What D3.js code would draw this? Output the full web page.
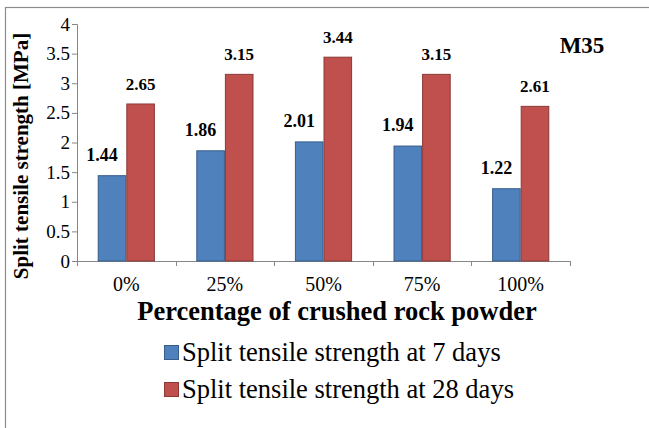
<!DOCTYPE html>
<html>
<head>
<meta charset="UTF-8">
<title>Split tensile strength M35</title>
<script src="https://d3js.org/d3.v7.min.js"></script>
<style>
  body { margin: 0; background: #fff; }
  svg text { font-family: "Liberation Serif", "Times New Roman", serif; fill: #000; }
</style>
</head>
<body>
<div id="chart"></div>
<script>
// data
var categories = ["0%", "25%", "50%", "75%", "100%"];
var days7 = [1.44, 1.86, 2.01, 1.94, 1.22];
var days28 = [2.65, 3.15, 3.44, 3.15, 2.61];
var seriesNames = ["Split tensile strength at 7 days", "Split tensile strength at 28 days"];
var yTicks = [0, 0.5, 1, 1.5, 2, 2.5, 3, 3.5, 4];

var W = 649, H = 428;
var plotL = 77, plotR = 570, plotT = 24, plotB = 261;
var fills = ["#4F81BD", "#C0504D"], strokes = ["#385D8A", "#8C3836"];

var svg = d3.select("#chart").append("svg").attr("width", W).attr("height", H);

// chart frame (only top & left edges visible in the crop)
svg.append("rect").attr("x", 5.5).attr("y", 7.5).attr("width", 700).attr("height", 500)
    .attr("fill", "none").attr("stroke", "#8c8c8c").attr("stroke-width", 1.2);

var x0 = d3.scaleBand().domain(categories).range([plotL, plotR]).paddingInner(0.42).paddingOuter(0.21);
var x1 = d3.scaleBand().domain([0, 1]).range([0, x0.bandwidth()]);
var y = d3.scaleLinear().domain([0, 4]).range([plotB, plotT]);

// y axis
var yAxis = svg.append("g").attr("transform", "translate(" + plotL + ",0)")
    .call(d3.axisLeft(y).tickValues(yTicks).tickSize(5).tickPadding(2).tickFormat(d3.format("")));
yAxis.selectAll("text").style("font-size", "19px");
yAxis.selectAll(".domain, line").attr("stroke", "#868686");

// x axis: labels centred, ticks at category boundaries
var step = (plotR - plotL) / categories.length;
var xAxis = svg.append("g").attr("transform", "translate(0," + plotB + ")")
    .call(d3.axisBottom(x0).tickSize(0).tickPadding(16));
xAxis.selectAll("text").style("font-size", "20px");
xAxis.select(".domain").remove();
svg.append("line").attr("x1", plotL).attr("x2", plotR).attr("y1", plotB + 0.5).attr("y2", plotB + 0.5)
    .attr("stroke", "#868686");
svg.selectAll(".xtick").data(d3.range(categories.length + 1)).enter().append("line")
    .attr("x1", function(i) { return Math.round(plotL + i * step) + 0.5; })
    .attr("x2", function(i) { return Math.round(plotL + i * step) + 0.5; })
    .attr("y1", plotB).attr("y2", plotB + 5).attr("stroke", "#868686");

// bars
var groups = svg.selectAll(".grp").data(categories).enter().append("g")
    .attr("transform", function(d) { return "translate(" + x0(d) + ",0)"; });
[days7, days28].forEach(function(vals, s) {
    groups.append("rect")
        .attr("x", x1(s) + 0.5)
        .attr("y", function(d, i) { return y(vals[i]); })
        .attr("width", x1.bandwidth() - 1)
        .attr("height", function(d, i) { return plotB - y(vals[i]); })
        .attr("fill", fills[s]).attr("stroke", strokes[s]).attr("stroke-width", 1);
});

// data labels
groups.append("text")
    .attr("x", x1(0) + x1.bandwidth() / 2 - 10)
    .attr("y", function(d, i) { return y(days7[i]) - 15; })
    .attr("text-anchor", "middle").style("font-size", "18px").style("font-weight", "bold")
    .text(function(d, i) { return days7[i].toFixed(2); });
groups.append("text")
    .attr("x", x1(1) + x1.bandwidth() / 2)
    .attr("y", function(d, i) { return y(days28[i]) - 14; })
    .attr("text-anchor", "middle").style("font-size", "17px").style("font-weight", "bold")
    .text(function(d, i) { return days28[i].toFixed(2); });

// M35 label
svg.append("text").attr("x", 582).attr("y", 53).attr("text-anchor", "middle")
    .style("font-size", "23px").style("font-weight", "bold").text("M35");

// axis titles
svg.append("text").attr("transform", "translate(28,156) rotate(-90)").attr("text-anchor", "middle")
    .style("font-size", "21px").style("font-weight", "bold").text("Split tensile strength [MPa]");
svg.append("text").attr("x", 337).attr("y", 320).attr("text-anchor", "middle")
    .style("font-size", "26.5px").style("font-weight", "bold").text("Percentage of crushed rock powder");

// legend
var leg = svg.selectAll(".leg").data(seriesNames).enter().append("g")
    .attr("transform", function(d, i) { return "translate(164," + (345 + i * 37) + ")"; });
leg.append("rect").attr("x", 0.5).attr("y", 0.5).attr("width", 14).attr("height", 14)
    .attr("fill", function(d, i) { return fills[i]; }).attr("stroke", function(d, i) { return strokes[i]; });
leg.append("text").attr("x", 18).attr("y", 16).style("font-size", "26.5px").text(function(d) { return d; });
</script>
</body>
</html>
